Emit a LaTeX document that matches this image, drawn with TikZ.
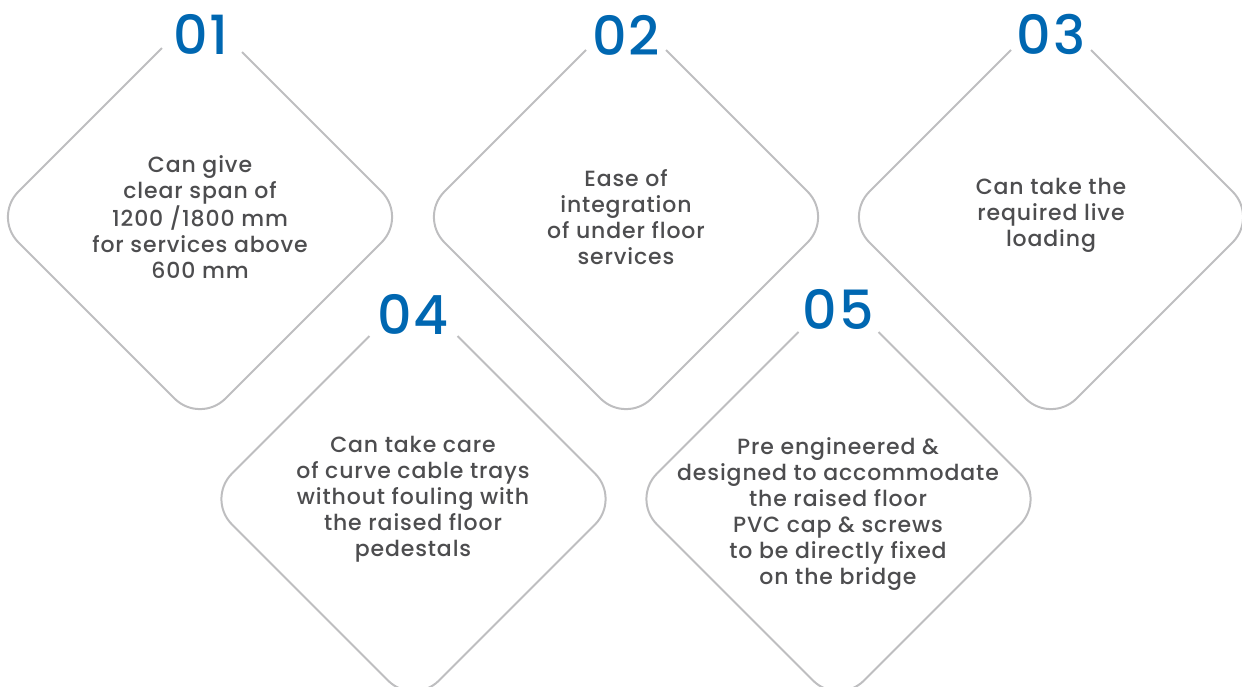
\documentclass[tikz,border=0pt]{standalone}
\usepackage{fontspec}
\setmainfont{Poppins Medium}[LetterSpace=4]
\newfontfamily\numfont{Poppins Medium}[LetterSpace=4]
\usetikzlibrary{positioning}
\definecolor{framegray}{RGB}{190,190,192}
\definecolor{textgray}{RGB}{77,77,79}
\definecolor{numblue}{RGB}{0,103,177}

\begin{document}
\begin{tikzpicture}[x=1pt, y=-1pt,
      frame/.style={draw=framegray, line width=2pt, rounded corners=36pt},
      info/.style={align=center, text=textgray, inner sep=0pt,
                   font=\fontsize{22}{26}\selectfont},
      num/.style={text=numblue, inner sep=0pt, font=\numfont\fontsize{54}{54}\selectfont}
    ]
      \clip (0,0) rectangle (1242,686);
      % frames, open at the top for the numbers
      \draw[frame, shift={(200,217)}] (-38,-169) -- (-207,0) -- (0,207) -- (207,0) -- (42,-165);
      \draw[frame, shift={(626,217)}] (-40,-167) -- (-207,0) -- (0,207) -- (207,0) -- (40,-167);
      \draw[frame, shift={(1051,217)}] (-40,-167) -- (-207,0) -- (0,207) -- (207,0) -- (40,-167);
      \draw[frame, shift={(413.5,499)}] (-44,-163) -- (-207,0) -- (0,207) -- (207,0) -- (44,-163);
      \draw[frame, shift={(838.5,499)}] (-40,-167) -- (-207,0) -- (0,207) -- (207,0) -- (40,-167);

      \node[num] (n1) at (201,34) {01};
      \node[num] (n2) at (626,35) {02};
      \node[num] (n3) at (1051,34) {03};
      \node[num] (n4) at (413,314) {04};
      \node[num] (n5) at (838,309) {05};

      \node[info] (d1) at (200,217) {Can give\\clear span of\\1200 /1800 mm\\for services above\\600 mm};
      \node[info] (d2) at (626,217) {Ease of\\integration\\of under floor\\services};
      \node[info] (d3) at (1051,215) {Can take the\\required live\\loading};
      \node[info] (d4) at (413,499) {Can take care\\of curve cable trays\\without fouling with\\the raised floor\\pedestals};
      \node[info] (d5) at (838,514) {Pre engineered \&\\designed to accommodate\\the raised floor\\PVC cap \& screws\\to be directly fixed\\on the bridge};
    \end{tikzpicture}
\end{document}
